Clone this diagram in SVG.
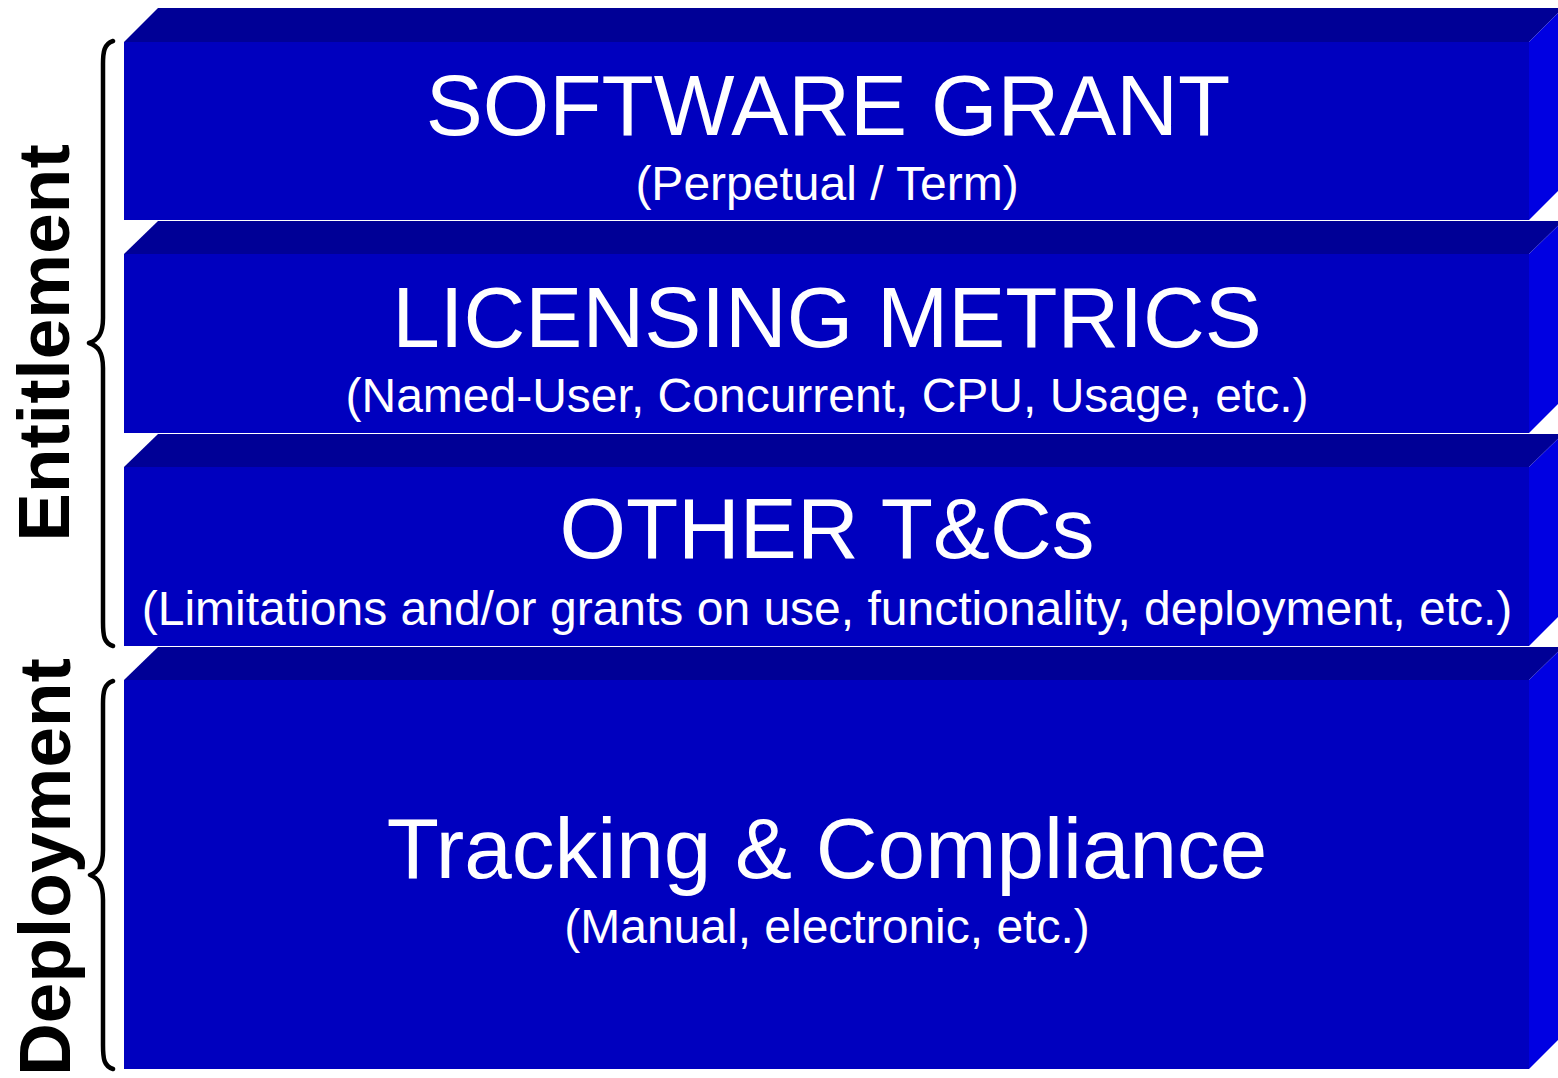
<svg xmlns="http://www.w3.org/2000/svg" width="1558" height="1078" viewBox="0 0 1558 1078">
  <style>
    .front { fill: #0000BF; }
    .top { fill: #000096; }
    .side { fill: #0000E2; }
    .title { font-family: "Liberation Sans", Arial, sans-serif; font-size: 85.5px; fill: #FFFFFF; text-anchor: middle; }
    .sub { font-family: "Liberation Sans", Arial, sans-serif; font-size: 48px; fill: #FFFFFF; text-anchor: middle; }
    .side-label { font-family: "Liberation Sans", Arial, sans-serif; font-weight: bold; font-size: 73px; fill: #000000; text-anchor: middle; }
    .brace { fill: none; stroke: #000000; stroke-width: 4.5; stroke-linecap: round; stroke-linejoin: round; }
  </style>

  <rect width="1558" height="1078" fill="#FFFFFF"/>

  <!-- Layer 1: software grant -->
  <g id="software-grant">
    <polygon class="top" points="124,42 158,8 1563,8 1529,42"/>
    <polygon class="side" points="1529,42 1563,8 1563,186 1529,220"/>
    <rect class="front" x="124" y="42" width="1405" height="178"/>
    <text class="title" x="828" y="135">SOFTWARE GRANT</text>
    <text class="sub" x="827" y="200">(Perpetual / Term)</text>
  </g>

  <!-- Layer 2: licensing metrics -->
  <g id="licensing-metrics">
    <polygon class="top" points="124,254 158,221 1563,221 1529,254"/>
    <polygon class="side" points="1529,254 1563,221 1563,399 1529,433"/>
    <rect class="front" x="124" y="254" width="1405" height="179"/>
    <text class="title" x="827" y="347">LICENSING METRICS</text>
    <text class="sub" x="827" y="412">(Named-User, Concurrent, CPU, Usage, etc.)</text>
  </g>

  <!-- Layer 3: other terms and conditions -->
  <g id="other-tcs">
    <polygon class="top" points="124,467 158,434 1563,434 1529,467"/>
    <polygon class="side" points="1529,467 1563,434 1563,612 1529,646"/>
    <rect class="front" x="124" y="467" width="1405" height="179"/>
    <text class="title" x="827" y="558">OTHER T&amp;Cs</text>
    <text class="sub" x="827" y="625">(Limitations and/or grants on use, functionality, deployment, etc.)</text>
  </g>

  <!-- Layer 4: tracking and compliance -->
  <g id="tracking-compliance">
    <polygon class="top" points="124,680 158,647 1563,647 1529,680"/>
    <polygon class="side" points="1529,680 1563,647 1563,1035 1529,1069"/>
    <rect class="front" x="124" y="680" width="1405" height="389"/>
    <text class="title" x="827" y="878">Tracking &amp; Compliance</text>
    <text class="sub" x="827" y="943">(Manual, electronic, etc.)</text>
  </g>

  <!-- Group labels with braces -->
  <g id="entitlement">
    <path class="brace" d="M113,41 C104,44 103,52 103,64 L103,318 C103,334 98,340 89,343 C98,346 103,352 103,368 L103,622 C103,636 104,643 113,646"/>
    <text class="side-label" transform="translate(69,343) rotate(-90)">Entitlement</text>
  </g>

  <g id="deployment">
    <path class="brace" d="M113,681 C104,684 103,692 103,704 L103,850 C103,866 98,872 90,875 C98,878 103,884 103,900 L103,1045 C103,1059 104,1066 113,1069"/>
    <text class="side-label" transform="translate(70,867) rotate(-90)">Deployment</text>
  </g>
</svg>
